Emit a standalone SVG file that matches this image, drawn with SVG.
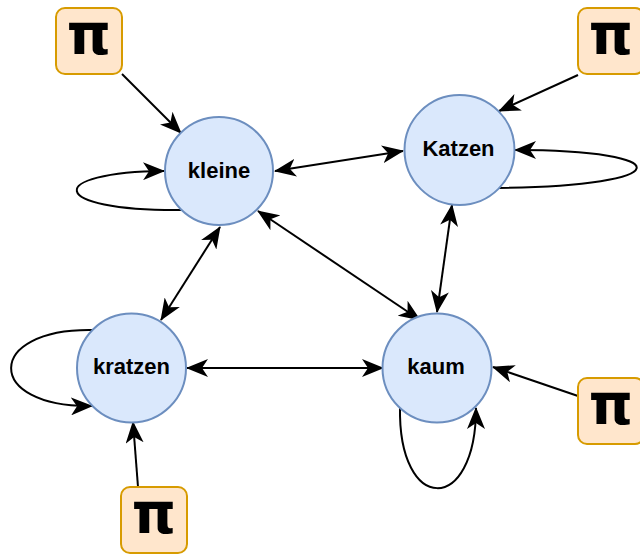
<svg xmlns="http://www.w3.org/2000/svg" width="640" height="554" viewBox="0 0 640 554">
<style>
.state{fill:#dae8fc;stroke:#6c8ebf;stroke-width:2}
.pi{fill:#ffe6cc;stroke:#d79b00;stroke-width:2}
.lbl{font-family:"Liberation Sans",Arial,sans-serif;font-weight:bold;font-size:22px;fill:#000;text-anchor:middle}
.pit{font-family:"DejaVu Sans","Liberation Sans",sans-serif;font-weight:bold;font-size:56px;fill:#000;text-anchor:middle}
.e{fill:none;stroke:#000;stroke-width:2}
</style>
<defs>
<marker id="arr" viewBox="0 0 22 18" refX="21" refY="9" markerWidth="22" markerHeight="18" markerUnits="userSpaceOnUse" orient="auto-start-reverse">
<path d="M0,0 L22,9 L0,18 L6,9 Z" fill="#000"/>
</marker>
</defs>
<g id="connectors">
<path class="e" d="M122,74 L181,133" marker-end="url(#arr)"/>
<path class="e" d="M578,75 L499,111" marker-end="url(#arr)"/>
<path class="e" d="M578,396 L493,367" marker-end="url(#arr)"/>
<path class="e" d="M138,487 L133,422" marker-end="url(#arr)"/>
<path class="e" d="M275,171 L403,151" marker-start="url(#arr)" marker-end="url(#arr)"/>
<path class="e" d="M220,227 L161,320" marker-start="url(#arr)" marker-end="url(#arr)"/>
<path class="e" d="M258,211 L420,320" marker-start="url(#arr)" marker-end="url(#arr)"/>
<path class="e" d="M452,205 L437,312" marker-start="url(#arr)" marker-end="url(#arr)"/>
<path class="e" d="M187,368 L383,368" marker-start="url(#arr)" marker-end="url(#arr)"/>
<path class="e" d="M181,210 C45,211 45,172 164,171" marker-end="url(#arr)"/>
<path class="e" d="M498,188 C680,186 680,150 515,150" marker-end="url(#arr)"/>
<path class="e" d="M93,330 C-16,328 -16,408 92,406" marker-end="url(#arr)"/>
<path class="e" d="M400,407 C398,515 476,515 476,408" marker-end="url(#arr)"/>
</g>
<g id="kleine"><circle class="state" cx="219" cy="171" r="54"/><text class="lbl" x="219" y="178">kleine</text></g>
<g id="Katzen"><circle class="state" cx="459.5" cy="150" r="55"/><text class="lbl" x="458.5" y="156">Katzen</text></g>
<g id="kratzen"><circle class="state" cx="131.5" cy="368" r="54.5"/><text class="lbl" x="131.5" y="374">kratzen</text></g>
<g id="kaum"><circle class="state" cx="437" cy="368" r="54.5"/><text class="lbl" x="436" y="374">kaum</text></g>
<g id="pi1"><rect class="pi" x="56" y="8" width="66" height="66" rx="9"/><text class="pit" x="89" y="54">π</text></g>
<g id="pi2"><rect class="pi" x="578" y="8" width="66" height="66" rx="9"/><text class="pit" x="611" y="54">π</text></g>
<g id="pi3"><rect class="pi" x="578" y="378" width="66" height="66" rx="9"/><text class="pit" x="611" y="424">π</text></g>
<g id="pi4"><rect class="pi" x="121" y="487" width="66" height="66" rx="9"/><text class="pit" x="154" y="533">π</text></g>
</svg>
